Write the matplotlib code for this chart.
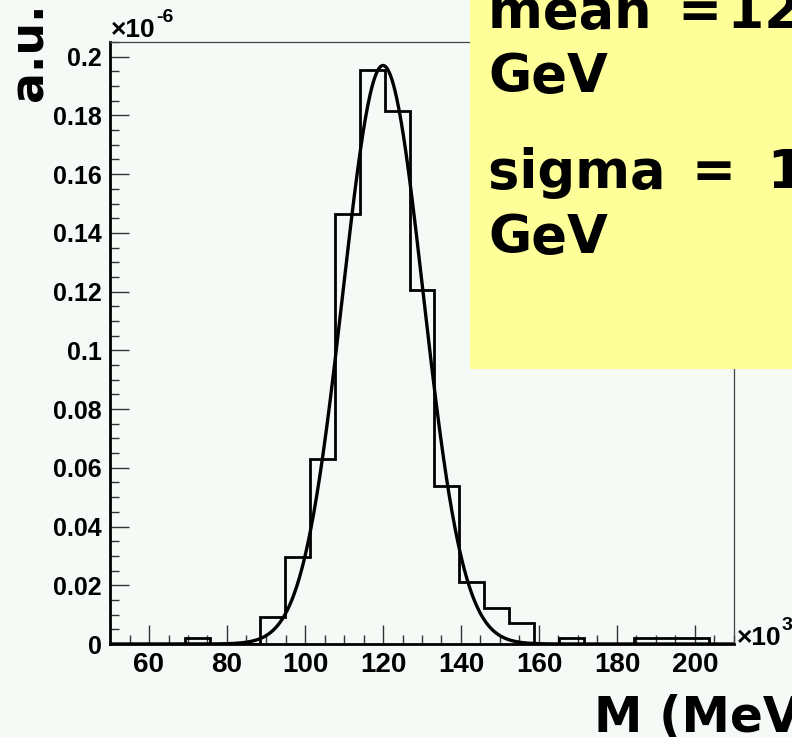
import matplotlib
matplotlib.use('Agg')
import matplotlib.pyplot as plt
from matplotlib.patches import Rectangle
from matplotlib.ticker import MultipleLocator, FixedLocator
import numpy as np

# histogram binning: 25 bins of 6.4 between 50 and 210 (x10^3 MeV)
x_min, x_max = 50.0, 210.0
bin_edges = np.linspace(x_min, x_max, 26)

# bin contents (a.u., x10^-6)
bin_values = [0.0, 0.0, 0.0, 0.0022, 0.0, 0.0, 0.0091, 0.0295, 0.063,
              0.1464, 0.1953, 0.1815, 0.1205, 0.0539, 0.021, 0.0122,
              0.0072, 0.0, 0.0022, 0.0, 0.0, 0.0022, 0.0022, 0.0022, 0.0]

# gaussian fit parameters
fit_mean = 120.0
fit_sigma = 10.3
fit_amp = 0.197

y_max = 0.205
y_ticks = [0, 0.02, 0.04, 0.06, 0.08, 0.1, 0.12, 0.14, 0.16, 0.18, 0.2]
y_tick_labels = ['0', '0.02', '0.04', '0.06', '0.08', '0.1', '0.12',
                 '0.14', '0.16', '0.18', '0.2']
x_ticks = [60, 80, 100, 120, 140, 160, 180, 200]

bg = '#f5faf7'
W, H = 792, 737

fig = plt.figure(figsize=(W / 100, H / 100), dpi=100, facecolor=bg)
ax = fig.add_axes([110 / W, (H - 644) / H, (734 - 110) / W, (644 - 42) / H])
ax.set_facecolor(bg)

ax.stairs(bin_values, bin_edges, color='black', lw=2.0, baseline=0, zorder=3)

xs = np.linspace(x_min, x_max, 800)
ys = fit_amp * np.exp(-0.5 * ((xs - fit_mean) / fit_sigma) ** 2)
ax.plot(xs, ys, color='black', lw=2.4, zorder=4, solid_capstyle='round')

ax.set_xlim(x_min, x_max)
ax.set_ylim(0, y_max)

# ROOT-like frame: thin box, heavier axis lines
for side in ['top', 'right']:
    ax.spines[side].set_linewidth(0.9)
    ax.spines[side].set_color('#444444')
for side in ['left', 'bottom']:
    ax.spines[side].set_linewidth(2.0)
    ax.spines[side].set_color('black')

ax.yaxis.set_major_locator(FixedLocator(y_ticks))
ax.yaxis.set_minor_locator(MultipleLocator(0.005))
ax.xaxis.set_major_locator(FixedLocator(x_ticks))
ax.xaxis.set_minor_locator(MultipleLocator(5))
ax.set_yticklabels(y_tick_labels)

ax.tick_params(axis='both', which='major', direction='in', length=13.5,
               width=1.0, color='#333333')
ax.tick_params(axis='both', which='minor', direction='in', length=6.5,
               width=1.0, color='#333333')
ax.tick_params(axis='y', which='major', pad=6)
ax.tick_params(axis='x', which='major', pad=6)
for lab in ax.get_yticklabels():
    lab.set_fontfamily('Liberation Sans')
    lab.set_fontweight('bold')
    lab.set_fontsize(18)
for lab in ax.get_xticklabels():
    lab.set_fontfamily('Liberation Sans')
    lab.set_fontweight('bold')
    lab.set_fontsize(20)


def exponent(x_px, base_px, power):
    """Draw a ROOT style '×10^n' axis multiplier."""
    fig.text(x_px / W, 1 - base_px / H, '\u00d710', fontsize=19,
             fontweight='bold', family='Liberation Sans',
             va='baseline', ha='left')
    fig.text((x_px + 45) / W, 1 - (base_px - 15) / H, power, fontsize=14,
             fontweight='bold', family='Liberation Sans',
             va='baseline', ha='left')


exponent(111, 37, '-6')
exponent(737, 645, '3')

# axis titles
fig.text(30 / W, 1 - 101 / H, 'a.u.', fontsize=33, fontweight='bold',
         family='DejaVu Sans', rotation=90, ha='center', va='bottom')
fig.text(594 / W, 1 - 732 / H, 'M (MeV)', fontsize=35, fontweight='bold',
         family='DejaVu Sans', ha='left', va='baseline')

# fit result box
fig.patches.append(Rectangle((470 / W, 1 - 369 / H), (W - 470) / W, 369 / H,
                             transform=fig.transFigure, facecolor='#ffff99',
                             edgecolor='none', zorder=5))
box_lines = [(f'mean\u2002=\u200a{fit_mean:.1f}', 28), ('GeV', 92),
             (f'sigma\u2002=\u2002\u200a{fit_sigma:.1f}', 188), ('GeV', 253)]
for txt, base in box_lines:
    fig.text(488 / W, 1 - base / H, txt, fontsize=38, fontweight='bold',
             family='DejaVu Sans', ha='left', va='baseline', zorder=6)

fig.savefig('out.png', dpi=100, facecolor=bg)
